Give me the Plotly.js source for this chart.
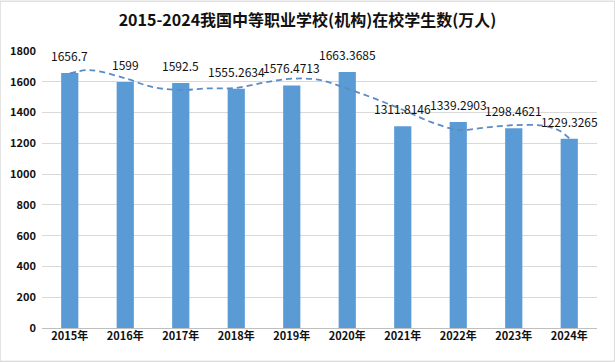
<!DOCTYPE html>
<html><head><meta charset="utf-8">
<script src="https://cdn.plot.ly/plotly-3.0.1.min.js"></script>
<style>html,body{margin:0;padding:0;background:#fff}#c{width:615px;height:362px}</style>
</head><body><div id="c"></div>
<script>
var years = ["2015年","2016年","2017年","2018年","2019年","2020年","2021年","2022年","2023年","2024年"];
var yearIndex = [0,1,2,3,4,5,6,7,8,9];
var students = [1656.7, 1599, 1592.5, 1555.2634, 1576.4713, 1663.3685, 1311.8146, 1339.2903, 1298.4621, 1229.3265];
var labels = ["1656.7","1599","1592.5","1555.2634","1576.4713","1663.3685","1311.8146","1339.2903","1298.4621","1229.3265"];
// dashed smoothed trend curve (position in year index, value)
var trendX = [0, 0.3, 0.5, 1, 1.5, 2, 2.5, 3, 3.5, 4, 4.5, 5, 5.5, 6, 6.5, 7, 7.5, 8, 8.5, 8.8, 9];
var trendY = [1655, 1676, 1670, 1623, 1565, 1547, 1557, 1560, 1595, 1620, 1612, 1555, 1490, 1418, 1340, 1288, 1303, 1318, 1316, 1287, 1233];

var font = "'Noto Sans CJK SC', 'Liberation Sans', sans-serif";
var annotations = yearIndex.map(function(xi,i){
  return {x:xi, y:students[i], text:labels[i], showarrow:false, yanchor:'bottom',
    yshift:7, font:{family:font, size:12, color:'#111'}};
});
var data = [
  {type:'bar', x:yearIndex, y:students, marker:{color:'#5B9BD5'}, width:0.31, hoverinfo:'none'},
  {type:'scatter', mode:'lines', x:trendX, y:trendY, line:{color:'#5A8CC6', width:1.8, dash:'6px,4px', shape:'spline', smoothing:1.0}, hoverinfo:'none'}
];
var layout = {
  width:615, height:362, showlegend:false,
  paper_bgcolor:'#fff', plot_bgcolor:'#fff',
  margin:{l:42, r:18, t:51, b:34},
  title:{text:'2015-2024我国中等职业学校(机构)在校学生数(万人)', x:0.5, xanchor:'center', y:0.945, yanchor:'middle',
    font:{family:font, size:16, color:'#111', weight:'bold'}},
  xaxis:{range:[-0.5, 9.5], tickvals:yearIndex, ticktext:years, showgrid:false, zeroline:false, showline:false, ticks:'',
    tickfont:{family:font, size:11, color:'#111', weight:'bold'}},
  yaxis:{range:[0,1800], dtick:200, showgrid:true, gridcolor:'#d9d9d9', gridwidth:1, zeroline:true, zerolinecolor:'#bfbfbf',
    showline:false, ticks:'', tickfont:{family:font, size:11, color:'#111', weight:'bold'}, ticksuffix:'  '},
  annotations:annotations,
  shapes:[{type:'rect', xref:'paper', yref:'paper', x0:-0.0755, x1:1.032, y0:-0.12, y1:1.18, line:{color:'#d0d0d0', width:1}, layer:'below'}]
};
Plotly.newPlot('c', data, layout, {displayModeBar:false, staticPlot:true});
</script></body></html>
